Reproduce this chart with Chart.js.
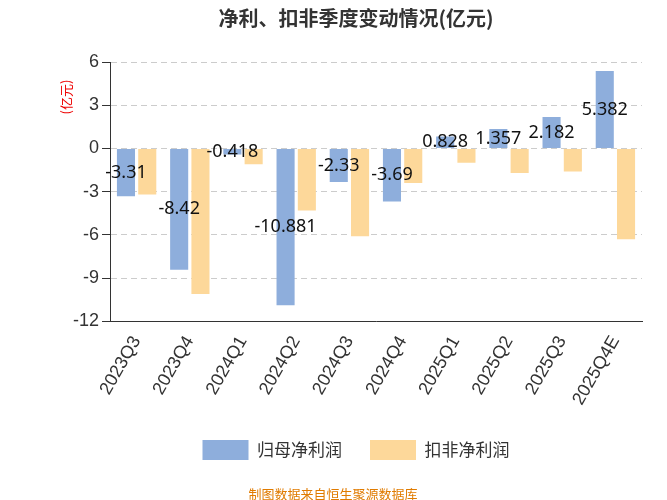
<!DOCTYPE html><html><head><meta charset="utf-8"><script src="https://cdn.jsdelivr.net/npm/chart.js@4/dist/chart.umd.min.js"></script>
<style>body{margin:0;background:#fff}#w{width:667px;height:500px;position:relative}</style></head><body><div id="w"><canvas id="c"></canvas></div>
<script>
const categories=['2023Q3','2023Q4','2024Q1','2024Q2','2024Q3','2024Q4','2025Q1','2025Q2','2025Q3','2025Q4E'];
const netProfit=[-3.31,-8.42,-0.418,-10.881,-2.33,-3.69,0.828,1.357,2.182,5.382];
const deductedProfit=[-3.2,-10.1,-1.1,-4.3,-6.1,-2.4,-1.0,-1.7,-1.6,-6.3];
const yTicks=[6,3,0,-3,-6,-9,-12];
const labelPlugin={id:'lbl',afterDatasetsDraw(ch){const ctx=ch.ctx;const m=ch.getDatasetMeta(0);ctx.save();ctx.font='18px "Noto Sans", sans-serif';ctx.fillStyle='#111';ctx.textAlign='center';ctx.textBaseline='middle';
m.data.forEach((b,i)=>{const y=(b.y+b.base)/2;ctx.fillText(String(netProfit[i]),b.x,y);});ctx.restore();}};
const footer={id:'ft',afterDraw(ch){const c=ch.ctx;c.save();c.font='13px "Noto Sans CJK SC"';c.fillStyle='#e07b00';c.textAlign='center';c.fillText('制图数据来自恒生聚源数据库',333,494);
c.fillStyle='#e00';c.translate(66,97);c.rotate(-Math.PI/2);c.font='13px "Noto Sans CJK SC"';c.fillText('(亿元)',0,0);c.restore();}};
new Chart(document.getElementById('c'),{type:'bar',data:{labels:categories,datasets:[
{label:'归母净利润',data:netProfit,backgroundColor:'#8eaedc',categoryPercentage:0.8,barPercentage:0.85},
{label:'扣非净利润',data:deductedProfit,backgroundColor:'#fdd89a',categoryPercentage:0.8,barPercentage:0.85}]},
options:{responsive:true,maintainAspectRatio:false,animation:false,
layout:{padding:{left:70,right:25,top:0,bottom:30}},
plugins:{title:{display:true,text:'净利、扣非季度变动情况(亿元)',font:{size:20,weight:'bold',family:'"Noto Sans CJK SC"'},color:'#333',padding:{top:6,bottom:32}},
legend:{position:'bottom',labels:{boxWidth:46,boxHeight:20,font:{size:17,family:'"Noto Sans CJK SC"'},color:'#333',padding:28}},tooltip:{enabled:false}},
scales:{x:{grid:{display:false},border:{color:'#333'},ticks:{color:'#333',font:{size:18},maxRotation:60,minRotation:60}},
y:{min:-12,max:6,afterBuildTicks(a){a.ticks=yTicks.map(v=>({value:v}));},grid:{color:'#ccc',drawTicks:true,tickColor:'#333'},border:{display:true,color:'#333',dash:[6,4]},ticks:{color:'#333',font:{size:18}}}}},
plugins:[labelPlugin,footer]});
</script></body></html>
